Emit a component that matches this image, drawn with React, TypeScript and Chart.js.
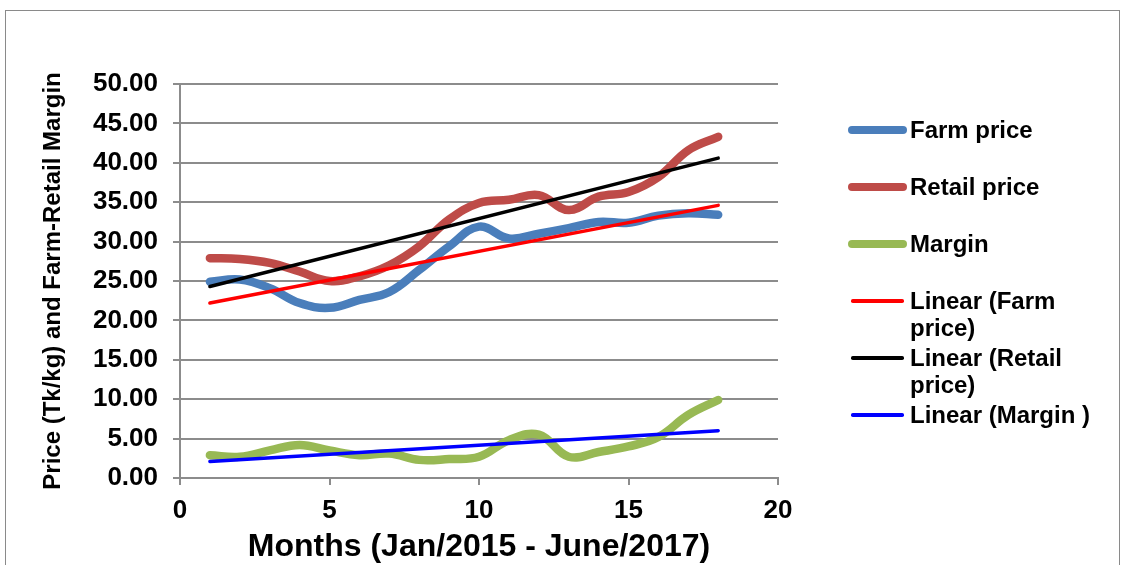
import React, { useEffect, useRef } from "react";
import { Chart, registerables } from "chart.js";

Chart.register(...registerables);

// ---- data ----
const months = [1, 2, 3, 4, 5, 6, 7, 8, 9, 10, 11, 12, 13, 14, 15, 16, 17, 18];
const farmPrice = [24.9, 25.2, 24.1, 22.2, 21.6, 22.6, 23.6, 26.4, 29.4, 31.9, 30.4, 31.0, 31.7, 32.5, 32.4, 33.3, 33.6, 33.4];
const retailPrice = [27.9, 27.8, 27.3, 26.2, 25.0, 25.6, 27.0, 29.4, 32.8, 34.9, 35.3, 35.9, 34.0, 35.7, 36.3, 38.2, 41.6, 43.3];
const margin = [2.9, 2.7, 3.5, 4.2, 3.5, 2.9, 3.1, 2.3, 2.4, 2.7, 4.8, 5.5, 2.7, 3.3, 4.0, 5.2, 8.0, 9.9];
const trendMonths = [1, 18];
const farmTrend = [22.2, 34.6];
const retailTrend = [24.3, 40.6];
const marginTrend = [2.1, 6.0];

const seriesNames = ["Farm price", "Retail price", "Margin", "Linear (Farm price)", "Linear (Retail price)", "Linear (Margin )"];
const seriesColors = ["#4A7EBB", "#BE4B48", "#98B954", "#FF0000", "#000000", "#0000FF"];
const xTitle = "Months (Jan/2015 - June/2017)";
const yTitle = "Price (Tk/kg) and Farm-Retail Margin";

const FONT = "'Liberation Sans', Arial, sans-serif";

const pts = (xs: number[], ys: number[]) => xs.map((x, i) => ({ x, y: ys[i] }));

const legendTops = [130, 187, 244, 301, 358, 415];

export default function App() {
  const ref = useRef<HTMLCanvasElement | null>(null);

  useEffect(() => {
    if (!ref.current) return;
    const thick = (i: number, data: number[], order: number) => ({
      label: seriesNames[i],
      data: pts(months, data),
      borderColor: seriesColors[i],
      backgroundColor: seriesColors[i],
      borderWidth: 8.5,
      borderCapStyle: "round" as const,
      borderJoinStyle: "round" as const,
      pointRadius: 0,
      tension: 0.4,
      fill: false,
      order,
    });
    const thin = (i: number, data: number[]) => ({
      label: seriesNames[i],
      data: pts(trendMonths, data),
      borderColor: seriesColors[i],
      backgroundColor: seriesColors[i],
      borderWidth: 3.5,
      borderCapStyle: "round" as const,
      pointRadius: 0,
      tension: 0,
      fill: false,
      order: 0,
    });
    const chart = new Chart(ref.current, {
      type: "line",
      data: {
        datasets: [
          thin(3, farmTrend),
          thin(4, retailTrend),
          thin(5, marginTrend),
          thick(2, margin, 1),
          thick(1, retailPrice, 2),
          thick(0, farmPrice, 3),
        ],
      },
      options: {
        animation: false,
        responsive: false,
        layout: { padding: { left: 0, top: 84, right: 346, bottom: 0 } },
        plugins: { legend: { display: false }, tooltip: { enabled: false } },
        scales: {
          x: {
            type: "linear",
            min: 0,
            max: 20,
            afterFit: (s: any) => {
              s.height = 87;
            },
            ticks: {
              stepSize: 5,
              color: "#000",
              padding: 10,
              maxRotation: 0,
              font: { family: FONT, size: 26, weight: "bold" },
            },
            grid: {
              display: true,
              drawOnChartArea: false,
              drawTicks: true,
              tickLength: 7,
              color: "#8c8c8c",
              lineWidth: 2,
            },
            border: { display: true, color: "#8c8c8c", width: 2 },
            title: {
              display: true,
              text: xTitle,
              color: "#000",
              padding: { top: 0, bottom: 2 },
              font: { family: FONT, size: 32, weight: "bold", lineHeight: 1 },
            },
          },
          y: {
            type: "linear",
            min: 0,
            max: 50,
            afterFit: (s: any) => {
              s.width = 180;
            },
            ticks: {
              stepSize: 5,
              color: "#000",
              padding: 15,
              callback: (v: any) => Number(v).toFixed(2),
              font: { family: FONT, size: 26, weight: "bold" },
            },
            grid: {
              color: "#8c8c8c",
              lineWidth: 2,
              tickLength: 7,
              drawTicks: true,
            },
            border: { display: true, color: "#8c8c8c", width: 2 },
            title: {
              display: true,
              text: yTitle,
              color: "#000",
              padding: { top: 39, bottom: 0 },
              font: { family: FONT, size: 24, weight: "bold", lineHeight: 1.2 },
            },
          },
        },
      },
    });
    return () => chart.destroy();
  }, []);

  return (
    <div
      style={{
        position: "fixed",
        left: 0,
        top: 0,
        width: 1124,
        height: 565,
        overflow: "hidden",
        background: "#fff",
      }}
    >
      <div
        style={{
          position: "absolute",
          left: 5,
          top: 10,
          width: 1115,
          height: 700,
          border: "1px solid #8a8a8a",
          boxSizing: "border-box",
        }}
      />
      <canvas ref={ref} width={1124} height={565} style={{ position: "absolute", left: 0, top: 0 }} />
      {seriesNames.map((name, i) => {
        const isThick = i < 3;
        return (
          <div key={name}>
            <div
              style={{
                position: "absolute",
                left: isThick ? 848 : 851,
                top: legendTops[i] - (isThick ? 4.25 : 1.75),
                width: isThick ? 59 : 53,
                height: isThick ? 8.5 : 3.5,
                borderRadius: isThick ? 4.25 : 1.75,
                background: seriesColors[i],
              }}
            />
            <div
              style={{
                position: "absolute",
                left: 910,
                top: legendTops[i] - 14,
                width: 200,
                fontFamily: FONT,
                fontWeight: "bold",
                fontSize: 24,
                lineHeight: "27px",
                color: "#000",
              }}
            >
              {name}
            </div>
          </div>
        );
      })}
    </div>
  );
}
